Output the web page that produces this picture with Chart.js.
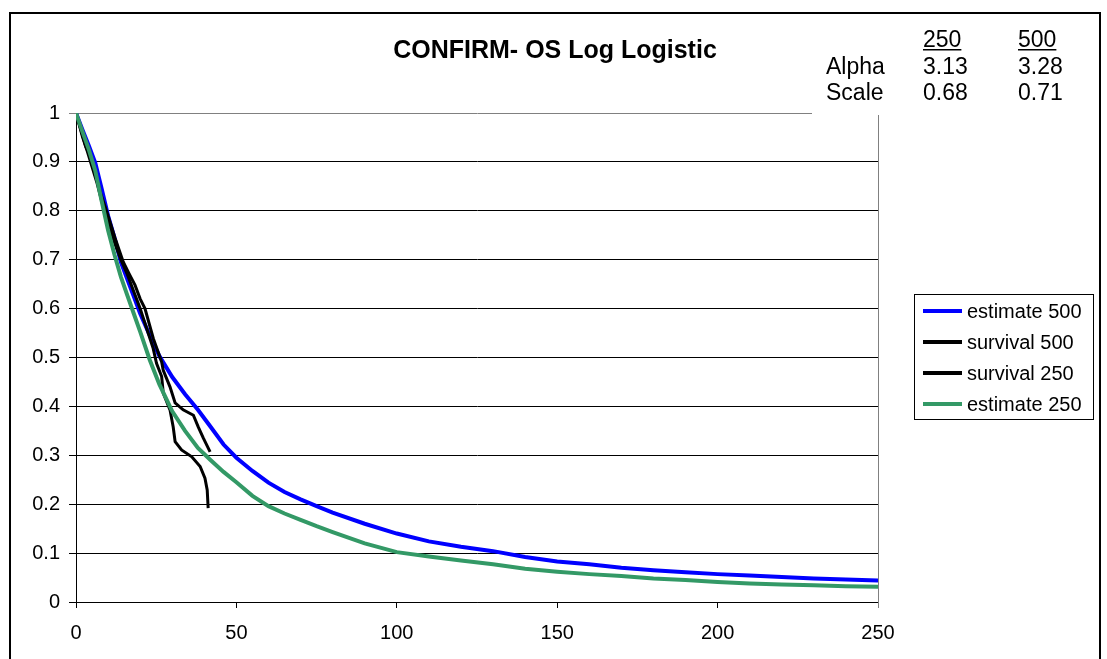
<!DOCTYPE html>
<html>
<head>
<meta charset="utf-8">
<script src="https://cdn.jsdelivr.net/npm/chart.js@4"></script>
<style>
  body { margin: 0; background: #fff; }
</style>
</head>
<body>
<canvas id="chart" width="1107" height="659"></canvas>
<script>
// x values shared by both log logistic estimates
const estDays = [0, 2, 4, 6, 8, 10, 12, 14, 16, 18, 20, 23, 26, 30, 34, 38, 42, 46, 50, 55, 60, 65, 70, 75, 80,
  90, 100, 110, 120, 130, 140, 150, 160, 170, 180, 190, 200, 210, 220, 230, 240, 250]
const est500 = [1, 0.966, 0.933, 0.898, 0.845, 0.79, 0.745, 0.695, 0.66, 0.625, 0.59, 0.545, 0.503, 0.46, 0.425,
  0.393, 0.358, 0.322, 0.295, 0.268, 0.244, 0.225, 0.21, 0.196, 0.183, 0.16, 0.14, 0.124, 0.113, 0.104, 0.092,
  0.083, 0.077, 0.07, 0.065, 0.061, 0.057, 0.054, 0.051, 0.048, 0.046, 0.044]
const est250 = [1, 0.962, 0.925, 0.882, 0.82, 0.76, 0.71, 0.665, 0.627, 0.59, 0.553, 0.495, 0.445, 0.39, 0.35,
  0.315, 0.29, 0.266, 0.245, 0.217, 0.196, 0.181, 0.168, 0.155, 0.143, 0.12, 0.102, 0.093, 0.085, 0.077, 0.068,
  0.062, 0.057, 0.053, 0.048, 0.045, 0.041, 0.038, 0.036, 0.034, 0.032, 0.031]

// observed survival (KM)
const surv500Days = [0, 1, 2.3, 3, 4.4, 5.9, 7.5, 9.6, 12.2, 14.7, 16.5, 18.4, 20, 21.5, 24.1, 26.7, 27.2, 29.3,
  30.9, 33.4, 36.6, 38.1, 39.7, 41.8]
const surv500 = [1, 0.978, 0.948, 0.932, 0.912, 0.88, 0.839, 0.798, 0.744, 0.696, 0.672, 0.648, 0.62, 0.6, 0.539,
  0.491, 0.474, 0.44, 0.407, 0.393, 0.382, 0.358, 0.335, 0.307]
const surv250Days = [0, 1, 2, 3.5, 5, 6.5, 8, 10, 12, 14, 16, 18, 20, 22, 24, 25.1, 26.7, 27.2, 29.3, 30.3, 30.9,
  32.9, 36.1, 38.7, 40.2, 40.9, 41.2]
const surv250 = [1, 0.976, 0.952, 0.922, 0.89, 0.858, 0.82, 0.78, 0.735, 0.7, 0.67, 0.635, 0.6, 0.56, 0.52, 0.488,
  0.461, 0.427, 0.393, 0.358, 0.328, 0.311, 0.297, 0.277, 0.253, 0.229, 0.192]

const paramCols = ['250', '500']
const paramRows = ['Alpha', 'Scale']
const alphaVals = [3.13, 3.28]
const scaleVals = [0.68, 0.71]

const FONT = '"Liberation Sans", Arial, sans-serif'
const pts = (xs, ys) => xs.map((x, i) => ({ x: x, y: ys[i] }))

const series = [
  { label: 'estimate 500', data: pts(estDays, est500), color: '#0000ff', width: 4, order: 3 },
  { label: 'survival 500', data: pts(surv500Days, surv500), color: '#000000', width: 3, order: 2 },
  { label: 'survival 250', data: pts(surv250Days, surv250), color: '#000000', width: 3, order: 1 },
  { label: 'estimate 250', data: pts(estDays, est250), color: '#339966', width: 4, order: 0 }
]

const decorations = {
  id: 'decorations',
  afterDraw(chart) {
    const ctx = chart.ctx
    const area = chart.chartArea
    ctx.save()

    // outer frame
    ctx.strokeStyle = '#000'
    ctx.lineWidth = 2
    ctx.strokeRect(10, 13, 1090, 700)

    // parameter box hides the end of the top grid line
    ctx.fillStyle = '#fff'
    ctx.fillRect(812, 100, 80, area.top - 100 + 2)

    // right edge of the plot
    ctx.strokeStyle = '#808080'
    ctx.lineWidth = 1
    ctx.beginPath()
    ctx.moveTo(area.right + 0.5, area.top + 2)
    ctx.lineTo(area.right + 0.5, area.bottom + 6)
    ctx.stroke()

    // title
    ctx.fillStyle = '#000'
    ctx.font = 'bold 25px ' + FONT
    ctx.textAlign = 'center'
    ctx.textBaseline = 'alphabetic'
    ctx.fillText('CONFIRM- OS Log Logistic', 555, 58)

    // parameter table
    ctx.font = '23px ' + FONT
    ctx.textAlign = 'left'
    const colX = [923, 1018]
    paramCols.forEach((c, i) => {
      ctx.fillText(c, colX[i], 47)
      const w = ctx.measureText(c).width
      ctx.fillRect(colX[i], 49, w, 1.5)
    })
    ctx.fillText(paramRows[0], 826, 74)
    ctx.fillText(paramRows[1], 826, 100)
    alphaVals.forEach((v, i) => ctx.fillText(v.toFixed(2), colX[i], 74))
    scaleVals.forEach((v, i) => ctx.fillText(v.toFixed(2), colX[i], 100))

    // legend
    ctx.strokeStyle = '#000'
    ctx.lineWidth = 1
    ctx.strokeRect(914.5, 294.5, 179, 125)
    ctx.font = '20px ' + FONT
    ctx.textBaseline = 'middle'
    series.forEach((s, i) => {
      const y = 311 + i * 31
      ctx.strokeStyle = s.color
      ctx.lineWidth = 4
      ctx.beginPath()
      ctx.moveTo(923, y)
      ctx.lineTo(962, y)
      ctx.stroke()
      ctx.fillStyle = '#000'
      ctx.fillText(s.label, 967, y + 1)
    })
    ctx.restore()
  }
}

new Chart(document.getElementById('chart'), {
  type: 'line',
  data: {
    datasets: series.map(s => ({
      label: s.label,
      data: s.data,
      borderColor: s.color,
      backgroundColor: s.color,
      borderWidth: s.width,
      pointRadius: 0,
      tension: 0,
      fill: false,
      order: s.order
    }))
  },
  options: {
    responsive: false,
    animation: false,
    layout: { padding: { left: 0, top: 113, right: 229, bottom: 0 } },
    plugins: {
      legend: { display: false },
      tooltip: { enabled: false }
    },
    scales: {
      x: {
        type: 'linear',
        min: 0,
        max: 250,
        afterFit: s => { s.height = 57 },
        ticks: { stepSize: 50, color: '#000', padding: 13, font: { family: FONT, size: 20 } },
        grid: { drawOnChartArea: false, drawTicks: true, tickLength: 6, color: '#000' },
        border: { color: '#000', width: 1 }
      },
      y: {
        min: 0,
        max: 1,
        afterFit: s => { s.width = 76 },
        ticks: {
          stepSize: 0.1,
          color: '#000',
          padding: 9,
          font: { family: FONT, size: 20 },
          callback: v => String(Math.round(v * 10) / 10)
        },
        grid: {
          tickLength: 7,
          color: c => (c.tick && c.tick.value === 1 ? '#808080' : '#000')
        },
        border: { color: '#000', width: 1 }
      }
    }
  },
  plugins: [decorations]
})
</script>
</body>
</html>
